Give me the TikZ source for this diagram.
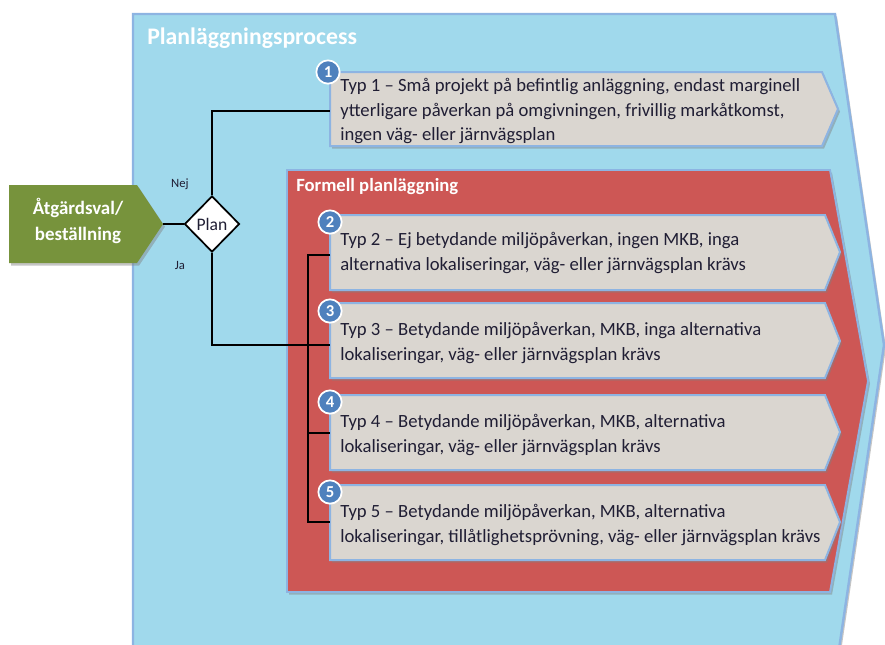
\documentclass[tikz,border=0pt]{standalone}
\usepackage{fontspec}
\setmainfont{Carlito}
\usetikzlibrary{shapes.geometric,shadows,calc}
\definecolor{bgblue}{RGB}{160,217,236}
\definecolor{bgedge}{RGB}{141,180,226}
\definecolor{redfill}{RGB}{205,87,85}
\definecolor{boxfill}{RGB}{218,214,208}
\definecolor{boxedge}{RGB}{141,180,226}
\definecolor{greenfill}{RGB}{119,147,60}
\definecolor{badgeblue}{RGB}{79,129,189}
\definecolor{ink}{RGB}{32,30,52}
\begin{document}
\begin{tikzpicture}[x=0.75pt,y=-0.75pt,
  shad/.style={drop shadow={shadow xshift=1.5pt,shadow yshift=-2pt,opacity=0.45}},
  chev/.style={fill=boxfill,draw=boxedge,line width=1.5pt,shad},
  boxtext/.style={align=left,anchor=west,inner sep=0pt,text=ink,font=\fontsize{14}{18.5}\selectfont},
  badge/.style={circle,fill=badgeblue,draw=white,line width=1.3pt,minimum size=17.5pt,inner sep=0pt,text=white,font=\fontsize{12.5}{12.5}\selectfont\bfseries},
  conn/.style={line width=1.9pt,black},
  title/.style={anchor=west,inner sep=0pt,text=white,font=\bfseries},
  yesno/.style={text=ink,font=\fontsize{9.5}{9.5}\selectfont}
]
\useasboundingbox (0,0) rectangle (885,644);
\clip (0,0) rectangle (885,644);
\fill[white] (0,0) rectangle (885,644);

% outer blue chevron
\path[fill=bgblue,draw=bgedge,line width=1.8pt,shad] (133,14) -- (835,14) -- (884,345) -- (835,676) -- (133,676) -- cycle;
\node[title,font=\fontsize{17.8}{17.8}\selectfont\bfseries] (ptitle) at (147,38) {Planläggningsprocess};

% red chevron
\path[fill=redfill,draw=bgedge,line width=1.4pt,shad] (287,170) -- (830,170) -- (868,381) -- (830,592) -- (287,592) -- cycle;
\node[title,font=\fontsize{14}{14}\selectfont\bfseries] (ftitle) at (296,187) {Formell planläggning};

% grey chevrons
\path[chev] (330,72) -- (822,72) -- (838,109) -- (822,146) -- (330,146) -- cycle;
\path[chev] (330,215) -- (825,215) -- (840,252) -- (825,290) -- (330,290) -- cycle;
\path[chev] (330,303) -- (825,303) -- (840,341) -- (825,378) -- (330,378) -- cycle;
\path[chev] (330,395) -- (825,395) -- (840,432) -- (825,470) -- (330,470) -- cycle;
\path[chev] (330,485) -- (825,485) -- (840,522) -- (825,560) -- (330,560) -- cycle;

\coordinate (e1) at (330,111);
\coordinate (e2) at (330,255);
\coordinate (e3) at (330,345);
\coordinate (e4) at (330,433);
\coordinate (e5) at (330,522);
\coordinate (k5) at (308,522);

\node[boxtext] (t1) at (340,111) {Typ 1 – Små projekt på befintlig anläggning, endast marginell\\ytterligare påverkan på omgivningen, frivillig markåtkomst,\\ingen väg- eller järnvägsplan};
\node[boxtext] (t2) at (340,253) {Typ 2 – Ej betydande miljöpåverkan, ingen MKB, inga\\alternativa lokaliseringar, väg- eller järnvägsplan krävs};
\node[boxtext] (t3) at (340,343) {Typ 3 – Betydande miljöpåverkan, MKB, inga alternativa\\lokaliseringar, väg- eller järnvägsplan krävs};
\node[boxtext] (t4) at (340,435) {Typ 4 – Betydande miljöpåverkan, MKB, alternativa\\lokaliseringar, väg- eller järnvägsplan krävs};
\node[boxtext] (t5) at (340,525) {Typ 5 – Betydande miljöpåverkan, MKB, alternativa\\lokaliseringar, tillåtlighetsprövning, väg- eller järnvägsplan krävs};

\node[badge] (b1) at (328,72) {1};
\node[badge] (b2) at (330,222) {2};
\node[badge] (b3) at (330,311) {3};
\node[badge] (b4) at (330,402) {4};
\node[badge] (b5) at (330,492) {5};

% green start chevron
\path[fill=greenfill,shad] (9,185) -- (137,185) -- (163,224) -- (137,263) -- (9,263) -- cycle;
\coordinate (g) at (163,224);
\node[text=white,align=center,font=\fontsize{14.2}{20}\selectfont\bfseries] (gtext) at (78,221) {Åtgärdsval/\\beställning};

% decision diamond
\node[diamond,draw=black,fill=white,line width=1.3pt,minimum width=41.25pt,minimum height=42pt,inner sep=0pt,text=ink,font=\fontsize{13.2}{13.2}\selectfont] (d) at (212,224) {Plan};
\node[yesno] (nej) at (180,184) {Nej};
\node[yesno] (ja) at (180,265) {Ja};

% connectors
\draw[conn] (g) -- (d.west);
\draw[conn] (d.north) |- (e1);
\draw[conn] (d.south) |- (e3);
\draw[conn] (e2) -| (k5) -- (e5);
\draw[conn] (k5 |- e4) -- (e4);
\end{tikzpicture}
\end{document}
